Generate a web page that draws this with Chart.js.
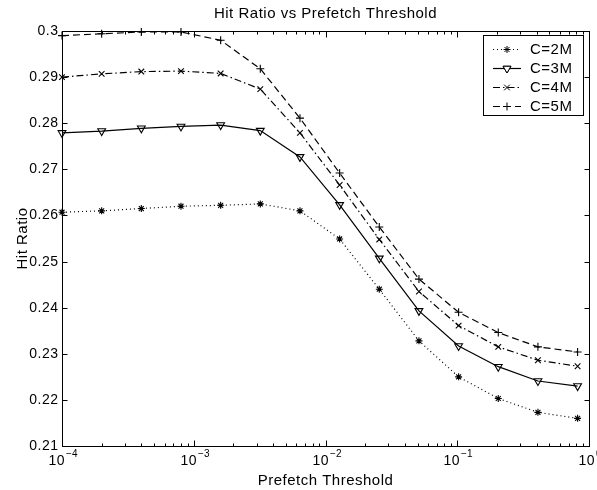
<!DOCTYPE html>
<html>
<head>
<meta charset="utf-8">
<script src="https://cdn.jsdelivr.net/npm/chart.js@4/dist/chart.umd.min.js"></script>
<style>
  html, body { margin: 0; padding: 0; background: #fff; }
  canvas { display: block; }
</style>
</head>
<body>
<canvas id="chart" width="597" height="490"></canvas>
<script>
const chartTitle = 'Hit Ratio vs Prefetch Threshold';
const xTitle = 'Prefetch Threshold';
const yTitle = 'Hit Ratio';

const threshold = [0.0001, 0.0002, 0.0004, 0.0008, 0.0016, 0.0032, 0.0064, 0.0128, 0.0256, 0.0512, 0.1024, 0.2048, 0.4096, 0.8192];
const hit2M = [0.2607, 0.2610, 0.2615, 0.2620, 0.2622, 0.2625, 0.2610, 0.2549, 0.2440, 0.2328, 0.2250, 0.2203, 0.2173, 0.2160];
const hit3M = [0.2779, 0.2783, 0.2789, 0.2793, 0.2796, 0.2784, 0.2727, 0.2623, 0.2507, 0.2393, 0.2317, 0.2272, 0.2241, 0.2230];
const hit4M = [0.2900, 0.2907, 0.2912, 0.2913, 0.2908, 0.2874, 0.2779, 0.2666, 0.2548, 0.2435, 0.2361, 0.2315, 0.2286, 0.2273];
const hit5M = [0.2990, 0.2994, 0.2998, 0.2998, 0.2980, 0.2918, 0.2811, 0.2692, 0.2575, 0.2462, 0.2390, 0.2346, 0.2315, 0.2304];
const seriesLabels = ['C=2M', 'C=3M', 'C=4M', 'C=5M'];

const yTicks = [0.21, 0.22, 0.23, 0.24, 0.25, 0.26, 0.27, 0.28, 0.29, 0.3];
const yTickLabels = ['0.21', '0.22', '0.23', '0.24', '0.25', '0.26', '0.27', '0.28', '0.29', '0.3'];
const xTicks = [0.0001, 0.001, 0.01, 0.1, 1];
const xTickExp = ['\u22124', '\u22123', '\u22122', '\u22121', '0'];

const FONT = '"Liberation Sans", Arial, Helvetica, sans-serif';

const pts = (ys) => threshold.map((x, i) => ({ x, y: ys[i] }));

function drawMarker(ctx, style, x, y, r) {
  ctx.beginPath();
  if (style === 'star') {
    for (let k = 0; k < 4; k++) {
      const a = k * Math.PI / 4;
      ctx.moveTo(x - Math.cos(a) * r, y - Math.sin(a) * r);
      ctx.lineTo(x + Math.cos(a) * r, y + Math.sin(a) * r);
    }
  } else if (style === 'triangle') {
    ctx.moveTo(x - r * 0.866, y - r * 0.5);
    ctx.lineTo(x + r * 0.866, y - r * 0.5);
    ctx.lineTo(x, y + r);
    ctx.closePath();
  } else if (style === 'crossRot') {
    const o = r * 0.7071;
    ctx.moveTo(x - o, y - o); ctx.lineTo(x + o, y + o);
    ctx.moveTo(x - o, y + o); ctx.lineTo(x + o, y - o);
  } else {
    ctx.moveTo(x - r, y); ctx.lineTo(x + r, y);
    ctx.moveTo(x, y - r); ctx.lineTo(x, y + r);
  }
  ctx.stroke();
}

function setFont(ctx, size) {
  ctx.font = size + 'px ' + FONT;
  ctx.letterSpacing = size >= 14 ? '0.5px' : '0px';
}

const framePlugin = {
  id: 'frame',
  afterDraw(chart) {
    const { ctx, chartArea: a, scales } = chart;
    const xs = scales.x, ys = scales.y;
    const L = Math.round(a.left) + 0.5, R = Math.round(a.right) + 0.5;
    const T = Math.round(a.top) + 0.5, B = Math.round(a.bottom) + 0.5;
    ctx.save();
    ctx.strokeStyle = '#000';
    ctx.fillStyle = '#000';
    ctx.lineWidth = 1;
    ctx.setLineDash([]);
    ctx.strokeRect(L, T, R - L, B - T);

    // y ticks, both sides, pointing in
    setFont(ctx, 14);
    ctx.textAlign = 'right';
    ctx.textBaseline = 'middle';
    yTicks.forEach((v, i) => {
      const py = Math.round(ys.getPixelForValue(v)) + 0.5;
      ctx.beginPath();
      ctx.moveTo(L, py); ctx.lineTo(L + 5, py);
      ctx.moveTo(R, py); ctx.lineTo(R - 5, py);
      ctx.stroke();
      ctx.fillText(yTickLabels[i], L - 4, py);
    });

    // x ticks, log decades plus minor ticks
    xTicks.forEach((v, i) => {
      const px = Math.round(xs.getPixelForValue(v)) + 0.5;
      ctx.beginPath();
      ctx.moveTo(px, B); ctx.lineTo(px, B - 6);
      ctx.moveTo(px, T); ctx.lineTo(px, T + 6);
      ctx.stroke();
      if (i < xTicks.length - 1) {
        for (let m = 2; m <= 9; m++) {
          const mx = Math.round(xs.getPixelForValue(v * m)) + 0.5;
          ctx.beginPath();
          ctx.moveTo(mx, B); ctx.lineTo(mx, B - 3);
          ctx.moveTo(mx, T); ctx.lineTo(mx, T + 3);
          ctx.stroke();
        }
      }
      ctx.textBaseline = 'alphabetic';
      ctx.textAlign = 'left';
      setFont(ctx, 14);
      const wb = ctx.measureText('10').width;
      setFont(ctx, 10);
      const we = ctx.measureText(xTickExp[i]).width;
      const x0 = px - (wb + we) / 2;
      setFont(ctx, 14);
      ctx.fillText('10', x0, 465);
      setFont(ctx, 10);
      ctx.fillText(xTickExp[i], x0 + wb + 1, 457);
    });

    // titles
    setFont(ctx, 15);
    ctx.textAlign = 'center';
    ctx.textBaseline = 'alphabetic';
    const cx = (a.left + a.right) / 2;
    ctx.fillText(chartTitle, cx, 18);
    ctx.fillText(xTitle, cx, 485);
    ctx.save();
    ctx.translate(27, (a.top + a.bottom) / 2);
    ctx.rotate(-Math.PI / 2);
    ctx.fillText(yTitle, 0, 0);
    ctx.restore();

    // legend
    const lx = 483.5, ly = 35.5, lw = 100, lh = 80;
    ctx.fillStyle = '#fff';
    ctx.fillRect(lx, ly, lw, lh);
    ctx.strokeStyle = '#000';
    ctx.strokeRect(lx, ly, lw, lh);
    setFont(ctx, 15);
    ctx.textAlign = 'left';
    ctx.textBaseline = 'middle';
    chart.data.datasets.forEach((ds, i) => {
      const ry = Math.round(49 + i * 19) + 0.5;
      ctx.strokeStyle = '#000';
      ctx.lineWidth = 1.2;
      ctx.setLineDash(ds.borderDash || []);
      ctx.beginPath();
      ctx.moveTo(493, ry); ctx.lineTo(521, ry);
      ctx.stroke();
      ctx.setLineDash([]);
      ctx.lineWidth = 1;
      if (ds.pointStyle === 'triangle') {
        ctx.fillStyle = '#fff';
        drawMarker(ctx, 'triangle', 507, ry, ds.pointRadius);
        ctx.fill();
        ctx.stroke();
      } else {
        drawMarker(ctx, ds.pointStyle, 507, ry, ds.pointRadius);
      }
      ctx.fillStyle = '#000';
      ctx.fillText(ds.label, 530, ry);
    });
    ctx.restore();
  }
};

const common = {
  borderColor: '#000',
  borderWidth: 1.2,
  pointBorderColor: '#000',
  pointBackgroundColor: 'rgba(0,0,0,0)',
  pointBorderWidth: 1.1,
  tension: 0,
  fill: false,
  clip: false,
};

new Chart(document.getElementById('chart'), {
  type: 'line',
  data: {
    datasets: [
      { ...common, label: seriesLabels[0], data: pts(hit2M), borderDash: [1, 3], pointStyle: 'star', pointRadius: 3.5 },
      { ...common, label: seriesLabels[1], data: pts(hit3M), borderDash: [], pointStyle: 'triangle', pointRotation: 180, pointRadius: 4.5 },
      { ...common, label: seriesLabels[2], data: pts(hit4M), borderDash: [7, 3, 1.5, 3], pointStyle: 'crossRot', pointRadius: 4 },
      { ...common, label: seriesLabels[3], data: pts(hit5M), borderDash: [7, 4], pointStyle: 'cross', pointRadius: 4 },
    ],
  },
  options: {
    responsive: false,
    animation: false,
    devicePixelRatio: 1,
    layout: { padding: { left: 62, top: 31, right: 8, bottom: 44 } },
    plugins: {
      legend: { display: false },
      title: { display: false },
      tooltip: { enabled: false },
    },
    scales: {
      x: { type: 'logarithmic', min: 0.0001, max: 1, display: false },
      y: { type: 'linear', min: 0.21, max: 0.3, display: false },
    },
  },
  plugins: [framePlugin],
});
</script>
</body>
</html>
